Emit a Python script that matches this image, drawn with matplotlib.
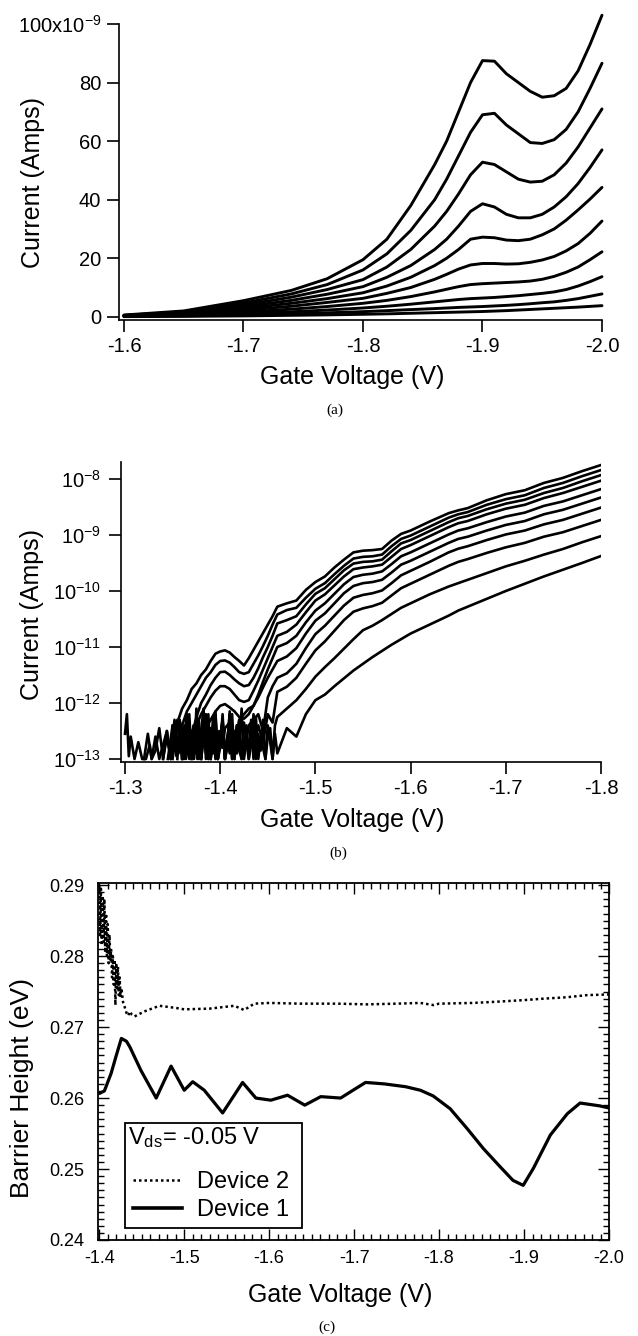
import numpy as np
import matplotlib
matplotlib.use('Agg')
import matplotlib.pyplot as plt
from matplotlib.ticker import MultipleLocator, NullLocator
from matplotlib.patches import Rectangle
from matplotlib.lines import Line2D

plt.rcParams['font.family'] = ['Liberation Sans', 'DejaVu Sans']
plt.rcParams['mathtext.fontset'] = 'custom'
plt.rcParams['mathtext.rm'] = 'Liberation Sans'
plt.rcParams['mathtext.it'] = 'Liberation Sans:italic'
plt.rcParams['axes.unicode_minus'] = False

# ---------------- panel (a): linear current vs gate voltage (nA) ----------------
a_volts = [-1.60, -1.65, -1.70, -1.74, -1.77, -1.80, -1.82, -1.84, -1.86, -1.87, -1.88, -1.89,
           -1.90, -1.91, -1.92, -1.93, -1.94, -1.95, -1.96, -1.97, -1.98, -1.99, -2.00]
a_curves_nA = [
    [0.6, 2.0, 5.5, 9.0, 13.0, 19.5, 26.5, 38, 52, 60, 70, 80, 87.5, 87.3, 83, 80, 77, 75, 75.5, 78, 84, 93, 103],
    [0.5, 1.7, 4.7, 7.8, 11.0, 16.0, 21.5, 29.5, 40, 47, 55, 63, 69, 69.5, 65.5, 62.5, 59.5, 59.2, 60.5, 64, 70, 78, 86.6],
    [0.45, 1.5, 4.0, 6.7, 9.3, 12.7, 17, 23, 31, 36, 42, 48.5, 52.8, 52, 49.5, 47, 46, 46.3, 48.5, 52.5, 58, 64.5, 71],
    [0.4, 1.3, 3.4, 5.6, 7.7, 10.3, 13.5, 17.5, 23, 26.5, 31, 36, 38.6, 37.5, 35, 33.8, 33.8, 35, 37.5, 41, 45.5, 51, 57],
    [0.35, 1.1, 2.8, 4.6, 6.2, 8.2, 10.5, 13.5, 17.5, 20, 23, 26.5, 27.2, 27, 26.2, 26, 26.5, 28, 30, 33, 36.5, 40.2, 44.2],
    [0.3, 0.9, 2.2, 3.6, 4.9, 6.3, 8, 10, 12.8, 14.5, 16.3, 17.7, 18.2, 18.2, 18.0, 18.1, 18.6, 19.4, 20.6, 22.5, 25, 28.5, 32.7],
    [0.25, 0.7, 1.6, 2.6, 3.5, 4.6, 5.6, 6.9, 8.5, 9.4, 10.3, 11.0, 11.3, 11.5, 11.7, 11.9, 12.2, 12.8, 13.8, 15.2, 17, 19.5, 22.2],
    [0.2, 0.5, 1.1, 1.7, 2.3, 3.0, 3.6, 4.3, 5.1, 5.5, 5.9, 6.2, 6.4, 6.6, 6.9, 7.2, 7.6, 8.0, 8.5, 9.3, 10.5, 12, 13.7],
    [0.12, 0.3, 0.65, 1.0, 1.35, 1.75, 2.1, 2.45, 2.8, 3.0, 3.2, 3.35, 3.5, 3.7, 3.9, 4.15, 4.45, 4.8, 5.1, 5.6, 6.2, 7.0, 7.8],
    [0.05, 0.15, 0.3, 0.5, 0.65, 0.85, 1.0, 1.2, 1.4, 1.5, 1.6, 1.7, 1.8, 1.95, 2.1, 2.3, 2.5, 2.7, 2.9, 3.1, 3.3, 3.55, 3.8],
]
a_xticks = [-1.6, -1.7, -1.8, -1.9, -2.0]
a_yticks = [0, 20e-9, 40e-9, 60e-9, 80e-9, 100e-9]
a_ylabels = ['0', '20', '40', '60', '80', '100x10$^{-9}$']

# ---------------- panel (b): log current, values are log10(I) ----------------
b_low_volts = [
    [-1.300, -1.302, -1.304, -1.306, -1.310, -1.314, -1.318, -1.322, -1.326, -1.328, -1.332, -1.336,
     -1.340, -1.344, -1.348, -1.350, -1.352, -1.355, -1.360, -1.365, -1.370, -1.375, -1.380, -1.385,
     -1.390, -1.395, -1.400, -1.405, -1.410, -1.415, -1.420, -1.425, -1.430, -1.435, -1.440, -1.445,
     -1.450, -1.455],
    [-1.320, -1.324, -1.328, -1.332, -1.336, -1.340, -1.344, -1.348, -1.352, -1.356, -1.360, -1.365,
     -1.370, -1.375, -1.380, -1.385, -1.390, -1.395, -1.400, -1.405, -1.410, -1.415, -1.420, -1.425,
     -1.430, -1.435, -1.440, -1.445, -1.450, -1.455],
    [-1.340, -1.344, -1.348, -1.352, -1.356, -1.360, -1.364, -1.368, -1.372, -1.376, -1.380, -1.385,
     -1.390, -1.395, -1.400, -1.405, -1.410, -1.415, -1.420, -1.425, -1.430, -1.435, -1.440, -1.445,
     -1.450, -1.455],
    [-1.345, -1.350, -1.354, -1.358, -1.362, -1.366, -1.370, -1.375, -1.380, -1.385, -1.390, -1.395,
     -1.400, -1.405, -1.410, -1.415, -1.420, -1.425, -1.430, -1.435, -1.440, -1.445, -1.450, -1.455],
    [-1.350, -1.355, -1.360, -1.364, -1.368, -1.372, -1.376, -1.380, -1.385, -1.390, -1.395, -1.400,
     -1.405, -1.410, -1.415, -1.420, -1.425, -1.430, -1.435, -1.440, -1.445, -1.450, -1.455],
    [-1.355, -1.3575, -1.360, -1.3625, -1.365, -1.3675, -1.370, -1.3725, -1.375, -1.3775, -1.380,
     -1.3825, -1.385, -1.3875, -1.390, -1.3925, -1.395, -1.3975, -1.400, -1.4025, -1.405, -1.410,
     -1.415, -1.420, -1.425, -1.430, -1.435, -1.440, -1.445, -1.450, -1.455],
    [-1.360, -1.3625, -1.365, -1.3675, -1.370, -1.3725, -1.375, -1.3775, -1.380, -1.3825, -1.385,
     -1.3875, -1.390, -1.3925, -1.395, -1.3975, -1.400, -1.4025, -1.405, -1.4075, -1.410, -1.4125,
     -1.415, -1.4175, -1.420, -1.425, -1.430, -1.435, -1.440, -1.445, -1.450, -1.455],
    [-1.370, -1.3725, -1.375, -1.3775, -1.380, -1.3825, -1.385, -1.3875, -1.390, -1.3925, -1.395,
     -1.3975, -1.400, -1.4025, -1.405, -1.4075, -1.410, -1.4125, -1.415, -1.4175, -1.420, -1.4225,
     -1.425, -1.4275, -1.430, -1.4325, -1.435, -1.4375, -1.440, -1.445, -1.450, -1.455],
    [-1.380, -1.3825, -1.385, -1.3875, -1.390, -1.3925, -1.395, -1.3975, -1.400, -1.4025, -1.405,
     -1.4075, -1.410, -1.4125, -1.415, -1.4175, -1.420, -1.4225, -1.425, -1.4275, -1.430, -1.4325,
     -1.435, -1.4375, -1.440, -1.4425, -1.445, -1.4475, -1.450, -1.4525, -1.455, -1.4575],
    [-1.390, -1.3925, -1.395, -1.3975, -1.400, -1.4025, -1.405, -1.4075, -1.410, -1.4125, -1.415,
     -1.4175, -1.420, -1.4225, -1.425, -1.4275, -1.430, -1.4325, -1.435, -1.4375, -1.440, -1.4425,
     -1.445, -1.4475, -1.450, -1.4525, -1.455, -1.4575],
]
b_low_logI = [
    [-12.55, -12.20, -12.95, -12.60, -13.0, -12.70, -13.0, -13.0, -12.75, -13.0, -12.60, -13.0,
     -12.75, -12.50, -13.0, -12.40, -12.85, -12.35, -12.10, -11.95, -11.75, -11.65, -11.50, -11.40,
     -11.25, -11.12, -11.08, -11.06, -11.10, -11.18, -11.25, -11.33, -11.20, -11.05, -10.90, -10.75,
     -10.60, -10.45],
    [-13.0, -12.55, -13.0, -12.85, -12.45, -13.0, -12.6, -13.0, -12.5, -12.9, -12.40, -12.15,
     -12.00, -11.85, -11.70, -11.55, -11.45, -11.32, -11.25, -11.24, -11.28, -11.36, -11.45, -11.48,
     -11.45, -11.30, -11.15, -10.98, -10.80, -10.60],
    [-13.0, -12.5, -13.0, -12.3, -12.9, -12.4, -13.0, -12.6, -12.45, -12.20, -12.00, -11.85,
     -11.68, -11.55, -11.45, -11.44, -11.50, -11.58, -11.65, -11.70, -11.68, -11.55, -11.38, -11.18,
     -11.00, -10.80],
    [-13.0, -12.4, -12.95, -12.35, -13.0, -12.7, -12.55, -12.40, -12.20, -12.05, -11.90, -11.78,
     -11.70, -11.70, -11.75, -11.85, -11.95, -11.98, -11.95, -11.78, -11.60, -11.40, -11.20, -11.00],
    [-13.0, -12.3, -13.0, -12.5, -12.9, -12.4, -13.0, -12.60, -12.45, -12.30, -12.15, -12.05,
     -12.02, -12.08, -12.15, -12.25, -12.28, -12.20, -12.05, -11.85, -11.62, -11.40, -11.20],
    [-13.0, -12.3, -13.0, -12.6, -12.2, -13.0, -12.5, -13.0, -12.1, -12.8, -13.0, -12.4, -12.9,
     -12.2, -13.0, -12.6, -12.3, -13.0, -12.5, -12.8, -12.45, -12.35, -12.85, -12.30, -12.20,
     -12.10, -12.05, -11.90, -11.72, -11.55, -11.40],
    [-13.0, -12.4, -12.9, -12.2, -13.0, -12.7, -12.3, -13.0, -12.5, -12.1, -13.0, -12.6, -12.9,
     -12.25, -13.0, -12.5, -12.8, -12.2, -13.0, -12.6, -12.35, -13.0, -12.7, -12.4, -12.60, -12.95,
     -12.40, -12.30, -12.20, -12.50, -11.90, -11.70],
    [-13.0, -12.5, -12.9, -12.3, -13.0, -12.6, -12.2, -13.0, -12.45, -12.85, -12.15, -13.0, -12.6,
     -12.3, -13.0, -12.7, -12.2, -12.9, -13.0, -12.4, -12.75, -12.1, -13.0, -12.55, -12.9, -12.3,
     -13.0, -12.6, -12.40, -12.70, -12.20, -12.35],
    [-13.0, -12.6, -12.25, -13.0, -12.5, -12.9, -12.2, -13.0, -12.65, -12.35, -13.0, -12.8, -12.15,
     -13.0, -12.5, -12.9, -12.3, -13.0, -12.6, -12.4, -13.0, -12.75, -12.2, -13.0, -12.55, -12.85,
     -12.3, -13.0, -12.6, -12.45, -13.0, -12.4],
    [-13.0, -12.7, -12.4, -13.0, -12.8, -12.3, -13.0, -12.6, -12.9, -12.2, -13.0, -12.5, -12.85,
     -13.0, -12.35, -12.7, -13.0, -12.45, -12.9, -12.25, -13.0, -12.6, -12.8, -13.0, -12.4, -12.7,
     -13.0, -12.55],
]
b_volts = [-1.46, -1.47, -1.48, -1.49, -1.50, -1.51, -1.52, -1.53, -1.54, -1.55, -1.56, -1.57, -1.58,
           -1.59, -1.60, -1.62, -1.64, -1.65, -1.66, -1.68, -1.70, -1.72, -1.74, -1.76, -1.78, -1.80]
b_logI = [
    [-10.28, -10.22, -10.17, -9.98, -9.84, -9.74, -9.58, -9.44, -9.31, -9.28, -9.27, -9.25, -9.10,
     -8.98, -8.92, -8.76, -8.61, -8.56, -8.52, -8.38, -8.27, -8.20, -8.07, -7.98, -7.86, -7.75],
    [-10.42, -10.34, -10.30, -10.12, -9.96, -9.86, -9.70, -9.55, -9.42, -9.39, -9.38, -9.35, -9.20,
     -9.07, -9.01, -8.85, -8.69, -8.63, -8.59, -8.46, -8.36, -8.29, -8.16, -8.07, -7.95, -7.84],
    [-10.58, -10.52, -10.45, -10.24, -10.05, -9.95, -9.79, -9.63, -9.51, -9.48, -9.47, -9.44, -9.29,
     -9.15, -9.09, -8.93, -8.77, -8.70, -8.66, -8.54, -8.44, -8.37, -8.25, -8.16, -8.04, -7.93],
    [-10.80, -10.73, -10.60, -10.38, -10.17, -10.06, -9.90, -9.74, -9.61, -9.58, -9.56, -9.53, -9.39,
     -9.25, -9.18, -9.02, -8.86, -8.79, -8.75, -8.63, -8.53, -8.46, -8.34, -8.25, -8.14, -8.03],
    [-11.00, -10.93, -10.80, -10.56, -10.35, -10.22, -10.05, -9.88, -9.75, -9.71, -9.69, -9.65, -9.52,
     -9.38, -9.31, -9.15, -8.99, -8.92, -8.88, -8.77, -8.67, -8.60, -8.48, -8.40, -8.29, -8.18],
    [-11.25, -11.17, -11.02, -10.76, -10.53, -10.40, -10.22, -10.04, -9.91, -9.86, -9.84, -9.80, -9.67,
     -9.53, -9.46, -9.30, -9.14, -9.07, -9.03, -8.92, -8.82, -8.75, -8.63, -8.55, -8.44, -8.33],
    [-11.55, -11.47, -11.30, -11.02, -10.77, -10.62, -10.44, -10.26, -10.12, -10.07, -10.04, -9.99, -9.86,
     -9.72, -9.64, -9.48, -9.31, -9.245, -9.20, -9.09, -8.99, -8.92, -8.81, -8.73, -8.62, -8.51],
    [-11.80, -11.71, -11.55, -11.30, -11.06, -10.90, -10.71, -10.52, -10.37, -10.31, -10.27, -10.21, -10.08,
     -9.95, -9.87, -9.71, -9.55, -9.48, -9.43, -9.32, -9.22, -9.14, -9.03, -8.95, -8.84, -8.73],
    [-12.25, -12.10, -11.95, -11.75, -11.53, -11.36, -11.20, -11.03, -10.86, -10.70, -10.62, -10.52, -10.41,
     -10.30, -10.22, -10.06, -9.92, -9.86, -9.80, -9.68, -9.56, -9.46, -9.35, -9.25, -9.13, -9.02],
    [-12.90, -12.45, -12.60, -12.20, -11.95, -11.85, -11.70, -11.56, -11.42, -11.30, -11.18, -11.07, -10.96,
     -10.86, -10.76, -10.60, -10.44, -10.35, -10.28, -10.14, -10.00, -9.87, -9.74, -9.62, -9.50, -9.375],
]
b_xticks = [-1.3, -1.4, -1.5, -1.6, -1.7, -1.8]
b_yticks = [1e-13, 1e-12, 1e-11, 1e-10, 1e-9, 1e-8]
b_ylabels = ['$10^{-13}$', '$10^{-12}$', '$10^{-11}$', '$10^{-10}$', '$10^{-9}$', '$10^{-8}$']

# ---------------- panel (c): barrier height ----------------
dev2_volts = [-1.400, -1.401, -1.402, -1.403, -1.404, -1.405, -1.406, -1.407, -1.408, -1.409, -1.410,
              -1.411, -1.412, -1.413, -1.414, -1.415, -1.416, -1.417, -1.418, -1.419, -1.420, -1.421,
              -1.422, -1.423, -1.424, -1.425, -1.426, -1.428, -1.430, -1.432, -1.434, -1.436, -1.438,
              -1.4415, -1.453, -1.4708, -1.49, -1.50, -1.53, -1.559, -1.5706, -1.5824, -1.60, -1.637,
              -1.68, -1.7155, -1.75, -1.778, -1.7935, -1.80, -1.84, -1.872, -1.90, -1.9225, -1.95,
              -1.974, -2.00]
dev2_eV = [0.2900, 0.2830, 0.2895, 0.2815, 0.2885, 0.2820, 0.2880, 0.2805, 0.2860, 0.2800, 0.2845,
           0.2790, 0.2830, 0.2795, 0.2810, 0.2770, 0.2800, 0.2760, 0.2795, 0.2731, 0.2790, 0.2755,
           0.2785, 0.2745, 0.2770, 0.2742, 0.2755, 0.2735, 0.2728, 0.2720, 0.2716, 0.2722, 0.2718,
           0.2715, 0.2722, 0.2730, 0.2727, 0.2725, 0.2726, 0.2730, 0.2724, 0.2733, 0.2734, 0.2733,
           0.2733, 0.2732, 0.2733, 0.2734, 0.2731, 0.2733, 0.2734, 0.2736, 0.2738, 0.2740, 0.2742,
           0.2745, 0.2746]
dev1_volts = [-1.401, -1.406, -1.414, -1.420, -1.426, -1.432, -1.436, -1.449, -1.467, -1.4845, -1.500,
              -1.510, -1.5236, -1.5452, -1.5687, -1.5843, -1.602, -1.6216, -1.6419, -1.6607, -1.6841,
              -1.70, -1.7135, -1.735, -1.7605, -1.778, -1.793, -1.813, -1.833, -1.852, -1.872, -1.887,
              -1.899, -1.911, -1.931, -1.951, -1.966, -1.989, -2.0]
dev1_eV = [0.2607, 0.2610, 0.2635, 0.2660, 0.2684, 0.2680, 0.2672, 0.2639, 0.2600, 0.2645, 0.2611,
           0.2623, 0.2611, 0.2579, 0.2622, 0.2600, 0.2597, 0.2604, 0.2590, 0.2602, 0.2600,
           0.2612, 0.2622, 0.2620, 0.2616, 0.2611, 0.2603, 0.2585, 0.2557, 0.2529, 0.2503, 0.2484,
           0.2477, 0.2501, 0.2548, 0.2578, 0.2593, 0.2589, 0.2586]
c_xticks = [-1.4, -1.5, -1.6, -1.7, -1.8, -1.9, -2.0]
c_yticks = [0.24, 0.25, 0.26, 0.27, 0.28, 0.29]

W, H = 638, 1336


def fx(x):
    return x / W


def fy(y):
    return 1 - y / H


fig = plt.figure(figsize=(W / 100, H / 100), dpi=100)

# ---- (a) ----
ax_a = fig.add_axes([fx(118.5), fy(320), (602 - 118.5) / W, (320 - 24) / H])
for c in a_curves_nA:
    ax_a.plot(a_volts, np.array(c) * 1e-9, color='black', lw=2.1, clip_on=False,
              solid_joinstyle='round', solid_capstyle='round')
ax_a.set_xlim(-1.5954, -2.0)
ax_a.set_ylim(-1.1e-9, 100e-9)
ax_a.set_xticks(a_xticks)
ax_a.set_xticklabels(['%.1f' % v for v in a_xticks])
ax_a.set_yticks(a_yticks)
ax_a.set_yticklabels(a_ylabels)
for s in ['top', 'right']:
    ax_a.spines[s].set_visible(False)
for s in ['left', 'bottom']:
    ax_a.spines[s].set_linewidth(1.2)
ax_a.tick_params(direction='out', length=8.5, width=1.2, labelsize=14.5, pad=4)

# ---- (b) ----
ax_b = fig.add_axes([fx(121), fy(762), (601 - 121) / W, 300 / H])
for lv, ll, gl in zip(b_low_volts, b_low_logI, b_logI):
    v = list(lv) + b_volts
    l = list(ll) + gl
    ax_b.plot(v, np.power(10.0, l), color='black', lw=1.9, solid_joinstyle='round')
ax_b.set_yscale('log')
ax_b.set_xlim(-1.2958, -1.8)
ax_b.set_ylim(10 ** -13.054, 10 ** -7.696)
ax_b.set_xticks(b_xticks)
ax_b.set_xticklabels(['%.1f' % v for v in b_xticks])
ax_b.set_yticks(b_yticks)
ax_b.set_yticklabels(b_ylabels)
ax_b.yaxis.set_minor_locator(NullLocator())
for s in ['top', 'right']:
    ax_b.spines[s].set_visible(False)
for s in ['left', 'bottom']:
    ax_b.spines[s].set_linewidth(1.2)
ax_b.tick_params(direction='out', length=8.5, width=1.2, labelsize=14.5, pad=4)
ax_b.tick_params(axis='y', pad=6)

# ---- (c) ----
ax_c = fig.add_axes([fx(98), fy(1240), 511 / W, 357 / H])
ax_c.plot(dev2_volts, dev2_eV, color='black', lw=1.8, dashes=(1, 1.2))
ax_c.plot(dev1_volts, dev1_eV, color='black', lw=2.3, solid_joinstyle='round')
ax_c.set_xlim(-1.3985, -2.0)
ax_c.set_ylim(0.24, 0.2903)
ax_c.set_xticks(c_xticks)
ax_c.set_xticklabels(['%.1f' % v for v in c_xticks])
ax_c.set_yticks(c_yticks)
ax_c.set_yticklabels(['%.2f' % v for v in c_yticks])
ax_c.xaxis.set_minor_locator(MultipleLocator(0.01))
ax_c.yaxis.set_minor_locator(MultipleLocator(0.001))
for s in ax_c.spines.values():
    s.set_linewidth(1.3)
ax_c.tick_params(which='both', direction='in', top=True, right=True, width=1.0)
ax_c.tick_params(which='major', length=8)
ax_c.tick_params(which='minor', length=4)
ax_c.tick_params(axis='y', labelsize=13, pad=10)
ax_c.tick_params(axis='x', labelsize=13, pad=7)

# legend box drawn by hand
ax_c.add_patch(Rectangle((0.0528, 0.0328), 0.3458, 0.2941, transform=ax_c.transAxes,
                         facecolor='white', edgecolor='black', lw=1.3, zorder=5))
ax_c.text(0.0587, 0.2857, r'V$_{\rm ds}$= -0.05 V', transform=ax_c.transAxes,
          fontsize=17, va='center', ha='left', zorder=6)
ax_c.add_line(Line2D([0.0685, 0.1644], [0.168, 0.168], transform=ax_c.transAxes,
                     color='black', lw=1.8, dashes=(1, 1.2), zorder=6))
ax_c.text(0.1937, 0.1633, 'Device 2', transform=ax_c.transAxes,
          fontsize=17, va='center', ha='left', zorder=6)
ax_c.add_line(Line2D([0.0685, 0.1644], [0.0896, 0.0896], transform=ax_c.transAxes,
                     color='black', lw=2.6, zorder=6))
ax_c.text(0.1937, 0.084, 'Device 1', transform=ax_c.transAxes,
          fontsize=17, va='center', ha='left', zorder=6)

# ---- axis titles and panel tags ----
fig.text(fx(33), fy(182), 'Current (Amps)', rotation=90, fontsize=18, ha='center', va='center')
fig.text(fx(352), fy(377), 'Gate Voltage (V)', fontsize=18, ha='center', va='center')
fig.text(fx(335), fy(410), '(a)', fontsize=11, ha='center', va='center', family='Liberation Serif')

fig.text(fx(32), fy(615), 'Current (Amps)', rotation=90, fontsize=18, ha='center', va='center')
fig.text(fx(352), fy(820), 'Gate Voltage (V)', fontsize=18, ha='center', va='center')
fig.text(fx(338), fy(853), '(b)', fontsize=11, ha='center', va='center', family='Liberation Serif')

fig.text(fx(22), fy(1088), 'Barrier Height (eV)', rotation=90, fontsize=19, ha='center', va='center')
fig.text(fx(340), fy(1295), 'Gate Voltage (V)', fontsize=18, ha='center', va='center')
fig.text(fx(327), fy(1327), '(c)', fontsize=11, ha='center', va='center', family='Liberation Serif')

fig.savefig('out.png', dpi=100)
